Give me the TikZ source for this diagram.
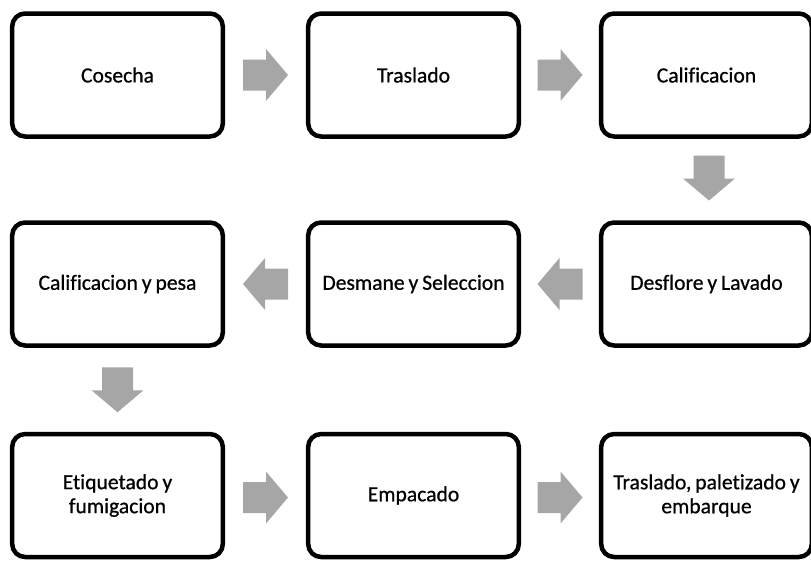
\documentclass[tikz,border=0pt]{standalone}
\usepackage{fontspec}
\setmainfont{Carlito}[Ligatures=NoCommon, WordSpace=0.8, FakeBold=0.7]
\usetikzlibrary{calc}
\definecolor{arrowgray}{HTML}{A6A6A6}
\tikzset{
  stepbox/.style={draw=black, fill=white, line width=4.5pt, rounded corners=13pt,
    minimum width=208pt, minimum height=123pt, align=flush center, text width=204pt,
    font=\fontsize{21.6}{24}\selectfont},
  barrow/.pic={\fill[arrowgray] (-22.5,-15.5) -- (0.5,-15.5) -- (0.5,-26) -- (22.5,0)
     -- (0.5,26) -- (0.5,15.5) -- (-22.5,15.5) -- cycle;}
}
\begin{document}
\begin{tikzpicture}[x=1pt,y=-1pt]
\useasboundingbox (0,0) rectangle (811,560);
\node[stepbox] (b1) at (117.5,75) {Cosecha};
\node[stepbox] (b2) at (413.5,75) {Traslado};
\node[stepbox] (b3) at (706.5,75) {Calificacion};
\node[stepbox] (b4) at (706.5,284) {Desflore y Lavado};
\node[stepbox] (b5) at (413.5,284) {Desmane y Seleccion};
\node[stepbox] (b6) at (117.5,284) {Calificacion y pesa};
\node[stepbox] (b7) at (117.5,495.5) {Etiquetado y\\fumigacion};
\node[stepbox] (b8) at (413.5,495.5) {Empacado};
\node[stepbox] (b9) at (706.5,495.5) {Traslado, paletizado y\\embarque};
\pic at ($(b1.east)!0.5!(b2.west)$) {barrow};
\pic at ($(b2.east)!0.5!(b3.west)$) {barrow};
\pic[rotate=-90] at ($(b3.south)!0.5!(b4.north)+(2.5,-1.5)$) {barrow};
\pic[rotate=180] at ($(b4.west)!0.5!(b5.east)$) {barrow};
\pic[rotate=180] at ($(b5.west)!0.5!(b6.east)$) {barrow};
\pic[rotate=-90] at ($(b6.south)!0.5!(b7.north)$) {barrow};
\pic at ($(b7.east)!0.5!(b8.west)+(0,2)$) {barrow};
\pic at ($(b8.east)!0.5!(b9.west)+(0,2)$) {barrow};
\end{tikzpicture}
\end{document}
